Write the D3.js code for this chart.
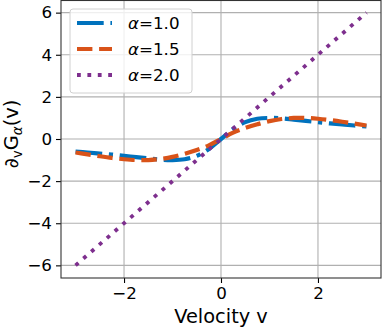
<!DOCTYPE html>
<html>
<head>
<meta charset="utf-8">
<script src="https://cdn.jsdelivr.net/npm/d3@7"></script>
<style>
  body { margin: 0; background: #fff; }
  text { font-family: "DejaVu Sans", sans-serif; fill: #000; }
</style>
</head>
<body>
<svg width="382" height="331"></svg>
<script>
// values
let velocity = [-3, -2.75, -2.5, -2.25, -2, -1.75, -1.5, -1.25, -1, -0.75, -0.5, -0.25, 0,
                0.25, 0.5, 0.75, 1, 1.25, 1.5, 1.75, 2, 2.25, 2.5, 2.75, 3];
let alpha10 = [-0.60, -0.64, -0.69, -0.74, -0.80, -0.86, -0.92, -0.98, -1.00, -0.96, -0.80, -0.47, 0,
               0.47, 0.80, 0.96, 1.00, 0.98, 0.92, 0.86, 0.80, 0.74, 0.69, 0.64, 0.60];
let alpha15 = [-0.64, -0.73, -0.82, -0.90, -0.96, -1.00, -1.00, -0.95, -0.85, -0.70, -0.52, -0.30, 0,
               0.30, 0.52, 0.70, 0.85, 0.95, 1.00, 1.00, 0.96, 0.90, 0.82, 0.73, 0.64];
let alpha20v = [-3, 3];
let alpha20 = [-6, 6];
let labels = ["\u03b1=1.0", "\u03b1=1.5", "\u03b1=2.0"];
let xTicks = [-2, 0, 2];
let yTicks = [-6, -4, -2, 0, 2, 4, 6];

let svg = d3.select("svg"),
    pLeft = 61, pRight = 381, pTop = 0, pBottom = 278;

let xScale = d3.scaleLinear().domain([-3.3, 3.3]).range([pLeft, pRight]),
    yScale = d3.scaleLinear().domain([-6.6, 6.6]).range([pBottom, pTop]);

let fmt = function (d) { return d < 0 ? "\u2212" + Math.abs(d) : "" + d; };

// grid
svg.append("g").selectAll("line").data(xTicks).enter().append("line")
    .attr("x1", d => xScale(d)).attr("x2", d => xScale(d))
    .attr("y1", pTop).attr("y2", pBottom)
    .attr("stroke", "#b0b0b0").attr("stroke-width", 1.1);
svg.append("g").selectAll("line").data(yTicks).enter().append("line")
    .attr("x1", pLeft).attr("x2", pRight)
    .attr("y1", d => yScale(d)).attr("y2", d => yScale(d))
    .attr("stroke", "#b0b0b0").attr("stroke-width", 1.1);

// axes
let xAxis = svg.append("g")
    .attr("transform", "translate(0," + pBottom + ")")
    .call(d3.axisBottom(xScale).tickValues(xTicks).tickFormat(fmt).tickSize(5).tickPadding(4));
let yAxis = svg.append("g")
    .attr("transform", "translate(" + pLeft + ",0)")
    .call(d3.axisLeft(yScale).tickValues(yTicks).tickFormat(fmt).tickSize(5).tickPadding(4));
[xAxis, yAxis].forEach(function (a) {
    a.select(".domain").remove();
    a.selectAll("line").attr("stroke", "#000").attr("stroke-width", 1.1);
    a.selectAll("text").style("font-size", "16.7px").style("font-family", "DejaVu Sans");
});

// frame
svg.append("rect")
    .attr("x", pLeft).attr("y", pTop + 0.5)
    .attr("width", pRight - pLeft).attr("height", pBottom - pTop - 0.5)
    .attr("fill", "none").attr("stroke", "#333").attr("stroke-width", 1.1);

// lines
let line = d3.line()
    .x(d => xScale(d[0]))
    .y(d => yScale(d[1]))
    .curve(d3.curveCatmullRom);

let series = [
    { vals: alpha10, xs: velocity, color: "#0072BD", dash: "26.7,6.7,4.2,6.7", w: 4.2 },
    { vals: alpha15, xs: velocity, color: "#D95319", dash: "15.4,6.7", w: 4.2 },
    { vals: alpha20, xs: alpha20v, color: "#7E2F8E", dash: "3.8,6.6", w: 3.8 }
];

series.forEach(function (s) {
    svg.append("path")
        .datum(s.xs.map((x, i) => [x, s.vals[i]]))
        .attr("d", line)
        .attr("fill", "none")
        .attr("stroke", s.color)
        .attr("stroke-width", s.w)
        .attr("stroke-dasharray", s.dash);
});

// legend
let lg = svg.append("g");
lg.append("rect")
    .attr("x", 70).attr("y", 9).attr("width", 122).attr("height", 84)
    .attr("rx", 3).attr("fill", "#fff").attr("fill-opacity", 0.8)
    .attr("stroke", "#d0d0d0").attr("stroke-width", 1);
series.forEach(function (s, i) {
    let y = 23 + i * 26;
    lg.append("line")
        .attr("x1", 77).attr("x2", 112).attr("y1", y).attr("y2", y)
        .attr("stroke", s.color).attr("stroke-width", s.w)
        .attr("stroke-dasharray", s.dash);
    let t = lg.append("text").attr("x", 128).attr("y", y + 6).style("font-size", "16.7px");
    t.append("tspan").style("font-style", "italic").text(labels[i].slice(0, 1));
    t.append("tspan").text(labels[i].slice(1));
});

// axis labels
svg.append("text")
    .attr("x", (pLeft + pRight) / 2).attr("y", 323)
    .attr("text-anchor", "middle")
    .style("font-size", "19.4px")
    .text("Velocity v");

let yl = svg.append("text")
    .attr("transform", "translate(18," + 134 + ") rotate(-90)")
    .attr("text-anchor", "middle")
    .style("font-size", "19.4px");
yl.append("tspan").text("\u2202");
yl.append("tspan").attr("dy", 4).style("font-size", "13.5px").text("v");
yl.append("tspan").attr("dy", -4).text("G");
yl.append("tspan").attr("dy", 4).style("font-size", "13.5px").style("font-style", "italic").text("\u03b1");
yl.append("tspan").attr("dy", -4).text("(v)");
</script>
</body>
</html>
